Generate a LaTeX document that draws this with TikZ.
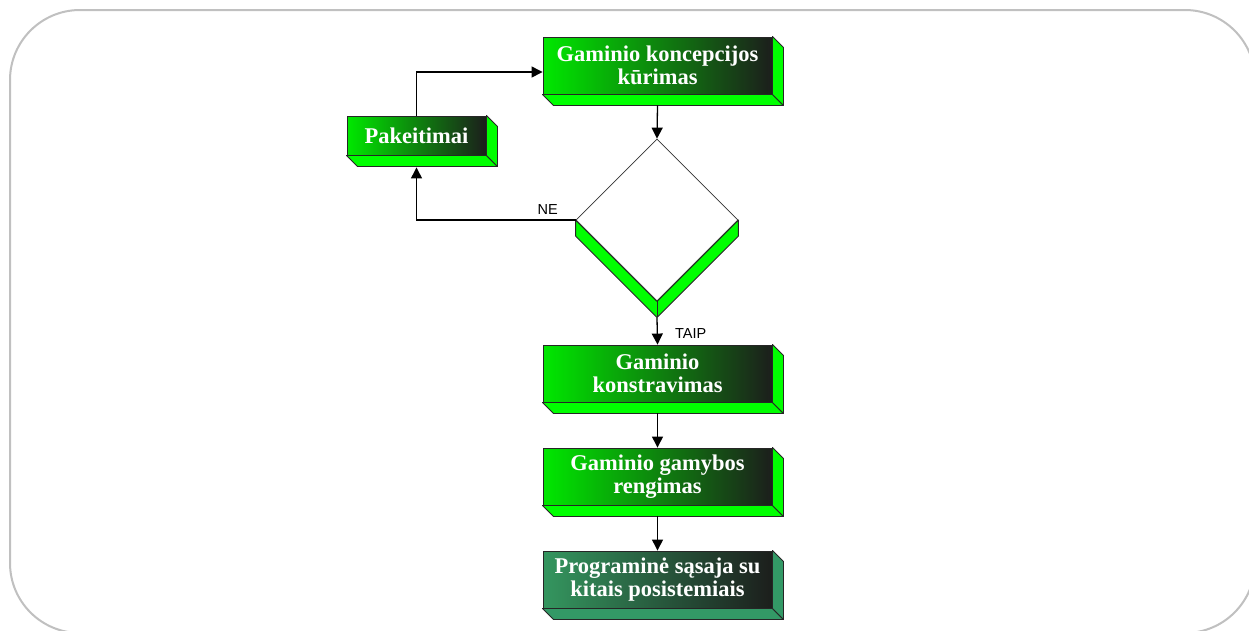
\documentclass[tikz,border=0pt]{standalone}
\usepackage{fontspec}
\setmainfont{Liberation Serif}
\newfontfamily\labelfont{Liberation Sans}
\usetikzlibrary{arrows.meta,calc,shapes.geometric}

\definecolor{framegray}{RGB}{192,192,192}
\definecolor{facegreen}{RGB}{0,232,0}
\definecolor{facedark}{RGB}{28,30,28}
\definecolor{sidegreen}{RGB}{0,255,0}
\definecolor{facesea}{RGB}{52,150,95}
\definecolor{sidesea}{RGB}{51,153,102}

\tikzset{
  stepbox/.style={draw=black!85, line width=0.9pt, rectangle, inner sep=0pt,
    minimum width=229pt, minimum height=57pt, align=center, text=white,
    font=\bfseries\fontsize{22.5}{23}\selectfont,
    left color=facegreen, right color=facedark},
  seabox/.style={stepbox, left color=facesea, right color=facedark},
  sideface/.style={fill=#1, draw=black!85, line width=0.9pt, line join=round},
  arr/.style={draw=black, line width=1.3pt,
    -{Triangle[width=11pt,length=11pt]}},
  ans/.style={font=\labelfont\fontsize{14.5}{16}\selectfont, inner sep=0pt},
  frame/.style={draw=framegray, line width=2pt, rounded corners=70pt}
}

% bottom and right faces of an extruded box
\newcommand\extrude[2]{%
  \path[sideface=#2] (#1.south west) -- ++(11,11) -- ($(#1.south east)+(11,11)$)
    -- (#1.south east) -- cycle;
  \path[sideface=#2] (#1.north east) -- ++(11,11) -- ($(#1.south east)+(11,11)$)
    -- (#1.south east) -- cycle;
}

\begin{document}
\begin{tikzpicture}[x=1pt,y=-1pt]
  \useasboundingbox (0,0) rectangle (1249,630);
  \fill[white] (0,0) rectangle (1249,630);
  \draw[frame] (10,10) rectangle (1255,633);

  % process boxes
  \node[stepbox] (concept) at (657.5,65.5) {Gaminio koncepcijos\\kūrimas};
  \node[stepbox, minimum width=139pt, minimum height=39pt] (changes) at (416.5,135.5) {Pakeitimai};
  \node[stepbox] (design) at (657.5,373.5) {Gaminio\\konstravimas};
  \node[stepbox] (prep) at (657.5,476.5) {Gaminio gamybos\\rengimas};
  \node[seabox] (iface) at (657.5,579.5) {Programinė sąsaja su\\kitais posistemiais};

  \extrude{concept}{sidegreen}
  \extrude{changes}{sidegreen}
  \extrude{design}{sidegreen}
  \extrude{prep}{sidegreen}
  \extrude{iface}{sidesea}

  % decision diamond with its lower extrusion
  \node[diamond, aspect=1, minimum width=162pt, minimum height=162pt, inner sep=0pt,
        draw=black!80, line width=0.8pt, fill=white] (check) at (657,220) {};
  \path[sideface=sidegreen] (check.west) -- ++(0,16) -- ($(check.south)+(0,16)$)
    -- ($(check.east)+(0,16)$) -- (check.east) -- (check.south) -- cycle;
  \draw[black!85, line width=0.9pt] (check.south) -- ++(0,16);

  % connectors
  \coordinate (conceptBase) at ($(concept.south)+(0,11)$);
  \coordinate (designBase) at ($(design.south)+(0,11)$);
  \coordinate (prepBase) at ($(prep.south)+(0,11)$);
  \coordinate (checkBase) at ($(check.south)+(0,16)$);
  \coordinate (changesBase) at ($(changes.south)+(0,12)$);
  \coordinate (conceptIn) at ($(concept.west)+(0,6.5)$);

  \draw[arr] (conceptBase) -- (check.north);
  \draw[arr] (checkBase) -- (design.north);
  \draw[arr] (designBase) -- (prep.north);
  \draw[arr] (prepBase) -- (iface.north);
  \draw[arr] (check.west) -| (changesBase);
  \draw[arr] (changes.north) |- (conceptIn);

  \node[ans, anchor=base east] (no) at (558,214) {NE};
  \node[ans, anchor=base west] (yes) at (675,338) {TAIP};
\end{tikzpicture}
\end{document}
